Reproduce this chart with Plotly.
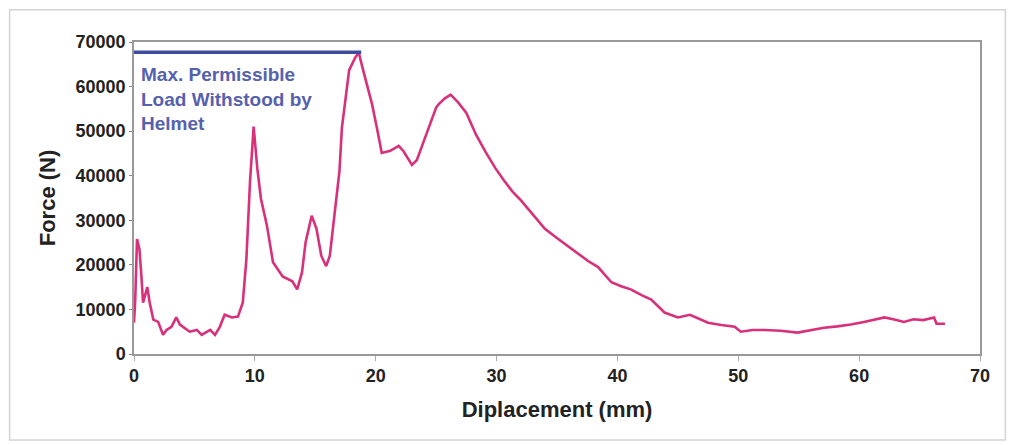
import plotly.graph_objects as go

# Displacement (mm) and Force (N)
displacement = [0.0, 0.1, 0.25, 0.45, 0.6, 0.75, 0.95, 1.1, 1.3, 1.6, 2.0, 2.4, 2.7, 3.1, 3.5, 3.8,
                4.6, 5.2, 5.6, 6.3, 6.7, 7.1, 7.5, 8.1, 8.6, 9.0, 9.3, 9.6, 9.9, 10.2, 10.5, 11.0,
                11.5, 12.3, 13.1, 13.5, 13.9, 14.2, 14.7, 15.1, 15.5, 15.9, 16.2, 16.6, 17.0, 17.2,
                17.8, 18.3, 18.6, 18.9, 19.3, 19.7, 20.1, 20.5, 21.2, 21.9, 22.3, 23.0, 23.4, 24.1,
                24.6, 25.0, 25.2, 25.7, 26.2, 26.8, 27.5, 28.3, 29.1, 29.9, 30.6, 31.3, 32.0, 32.6,
                33.3, 34.0, 35.1, 36.3, 37.6, 38.4, 39.5, 40.3, 41.1, 42.0, 42.8, 43.9, 45.0, 46.0,
                46.8, 47.5, 48.6, 49.7, 50.2, 51.2, 52.2, 53.5, 54.9, 56.0, 57.1, 58.2, 59.3, 60.4,
                61.2, 62.1, 63.0, 63.7, 64.5, 65.3, 66.2, 66.4, 67.1]
force = [7000, 12000, 25800, 23500, 18000, 11500, 13500, 15000, 11500, 7700, 7200, 4300, 5400, 6100,
         8200, 6600, 5000, 5400, 4300, 5400, 4300, 6100, 8800, 8200, 8400, 11500, 21300, 38700,
         51000, 41700, 34900, 28800, 20600, 17400, 16300, 14500, 18300, 25100, 31000, 28100, 22000,
         19700, 22000, 31000, 41000, 50700, 63700, 66500, 67600, 64300, 60000, 56000, 50700, 45100,
         45600, 46700, 45500, 42400, 43500, 48500, 52500, 55300, 56000, 57300, 58200, 56500, 54100,
         49200, 45300, 41700, 39000, 36500, 34500, 32600, 30200, 28100, 25800, 23400, 20800, 19500,
         16100, 15200, 14500, 13200, 12200, 9300, 8200, 8800, 7800, 7000, 6500, 6100, 5000, 5400,
         5400, 5200, 4800, 5400, 5900, 6200, 6600, 7200, 7600, 8200, 7700, 7200, 7800, 7600, 8200,
         6800, 6800]

max_load = 67700
max_load_x = [0, 18.8]
x_ticks = [0, 10, 20, 30, 40, 50, 60, 70]
y_ticks = [0, 10000, 20000, 30000, 40000, 50000, 60000, 70000]
y_tick_labels = ["0", "10000", "20000", "30000", "40000", "50000", "60000", "70000"]

fig = go.Figure()
fig.add_trace(go.Scatter(x=displacement, y=force, mode="lines",
                         line=dict(color="#D8307A", width=2.6), showlegend=False))
fig.add_trace(go.Scatter(x=max_load_x, y=[max_load, max_load], mode="lines",
                         line=dict(color="#3F4C9E", width=3.5), showlegend=False))

fig.add_annotation(x=0, y=max_load, xref="x", yref="y", xanchor="left", yanchor="top",
                   xshift=5, yshift=-10, align="left", showarrow=False,
                   text="Max. Permissible<br>Load Withstood by<br>Helmet",
                   font=dict(family="Liberation Sans, Arial", size=19, color="#5661AE", weight="bold"))

axis_font = dict(family="Liberation Sans, Arial", size=18, color="#222222", weight="bold")
title_font = dict(family="Liberation Sans, Arial", size=22, color="#222222", weight="bold")

fig.update_xaxes(range=[0, 70], tickvals=x_ticks, ticks="outside", ticklen=5, tickcolor="#AAAAAA",
                 showline=True, linecolor="#999999", linewidth=1.5, mirror=True, showgrid=False,
                 zeroline=False, tickfont=axis_font,
                 title=dict(text="Diplacement (mm)", font=title_font, standoff=16))
fig.update_yaxes(range=[0, 70000], tickvals=y_ticks, ticktext=y_tick_labels, ticks="outside",
                 ticklen=3, tickcolor="#888888",
                 showline=True, linecolor="#999999", linewidth=1.5, mirror=True, showgrid=False,
                 zeroline=False, tickfont=axis_font,
                 title=dict(text="Force (N)", font=title_font, standoff=14))

fig.add_shape(type="rect", xref="paper", yref="paper", x0=-0.147, x1=1.030, y0=-0.276, y1=1.103,
              line=dict(color="#D4D4D4", width=1.5), fillcolor="rgba(0,0,0,0)", layer="below")

fig.update_layout(width=1016, height=445, margin=dict(l=134, r=36, t=42, b=91),
                  paper_bgcolor="white", plot_bgcolor="white")

fig.write_html("out.html")
